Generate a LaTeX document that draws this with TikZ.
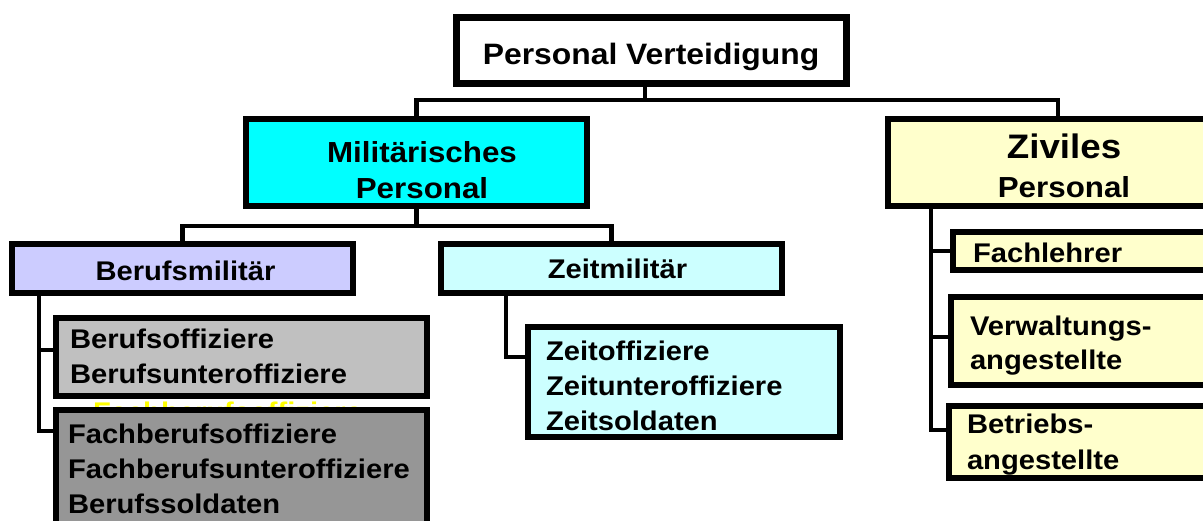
\documentclass[tikz,border=0pt]{standalone}
\usepackage{fontspec}
\setmainfont{Liberation Sans}[FakeStretch=1.08]
\usepackage{array}
\definecolor{milcyan}{HTML}{00FFFF}
\definecolor{zivyellow}{HTML}{FFFFCC}
\definecolor{berlav}{HTML}{CCCCFF}
\definecolor{zeitcyan}{HTML}{CCFFFF}
\definecolor{lgray}{HTML}{C0C0C0}
\definecolor{dgray}{HTML}{969696}
\definecolor{ghost}{HTML}{FFFF00}
\newcommand\tlines[1]{\begin{tabular}[t]{@{}l@{}}#1\end{tabular}}
\newcommand\tcent[1]{\begin{tabular}[t]{@{}c@{}}#1\end{tabular}}
\tikzset{
  orgbox/.style={draw=black, line width=6pt, inner sep=0pt, outer sep=0pt, rectangle},
  conn/.style={draw=black, line width=4.5pt, line cap=rect},
  lbl/.style={inner sep=0pt, outer sep=0pt, font=\bfseries\fontsize{27}{35}\selectfont, text=black},
}
\begin{document}
\begin{tikzpicture}[x=1pt, y=-1pt]
\useasboundingbox (0,0) rectangle (1203,520);
\clip (0,0) rectangle (1203,520);
\fill[white] (0,0) rectangle (1203,520);

% hidden yellow text peeking between the grey boxes
\node[lbl, text=ghost, anchor=base west] (ghosttext) at (93,421) {Fachberufsoffiziere};

% boxes
\node[orgbox, line width=7pt, fill=white, minimum width=390pt, minimum height=66pt] (pv) at (651.5,50.5) {};
\node[orgbox, fill=milcyan, minimum width=341pt, minimum height=87pt] (mil) at (416.5,162.5) {};
\node[orgbox, fill=zivyellow, minimum width=324pt, minimum height=87pt] (ziv) at (1050,162.5) {};
\node[orgbox, fill=berlav, minimum width=341pt, minimum height=49pt] (bm) at (182.5,268.5) {};
\node[orgbox, fill=zeitcyan, minimum width=341pt, minimum height=49pt] (zm) at (611.5,268.5) {};
\node[orgbox, fill=lgray, minimum width=371pt, minimum height=78pt] (bo) at (241.5,357) {};
\node[orgbox, fill=dgray, minimum width=371pt, minimum height=127pt] (fb) at (241.5,473.5) {};
\node[orgbox, fill=zeitcyan, minimum width=312pt, minimum height=110pt] (zo) at (684,382) {};
\node[orgbox, fill=zivyellow, minimum width=259pt, minimum height=38pt] (fl) at (1082.5,251) {};
\node[orgbox, fill=zivyellow, minimum width=261pt, minimum height=88pt] (vw) at (1081.5,341) {};
\node[orgbox, fill=zivyellow, minimum width=263pt, minimum height=72pt] (be) at (1080.5,442) {};

% connectors
\coordinate (j0) at (645,100);
\coordinate (j1) at (416.5,226);
\draw[conn] (j0 |- pv.south) -- (j0);
\draw[conn] (mil.north) |- (j0);
\draw[conn] ([xshift=8pt]ziv.north) |- (j0);
\draw[conn] (mil.south) -- (j1);
\draw[conn] (bm.north) |- (j1);
\draw[conn] (zm.north) |- (j1);
\draw[conn] ([xshift=27pt]bm.south west) |- ([yshift=7pt]bo.west);
\draw[conn] ([xshift=27pt]bm.south west) |- ([yshift=-21pt]fb.north west);
\draw[conn] ([xshift=65pt]zm.south west) |- ([yshift=25pt]zo.west);
\draw[conn] ([xshift=43pt]ziv.south west) |- (fl.west);
\draw[conn] ([xshift=43pt]ziv.south west) |- ([yshift=4pt]vw.west);
\draw[conn] ([xshift=43pt]ziv.south west) |- ([yshift=12pt]be.west);

% texts
\node[lbl, font=\bfseries\fontsize{29.5}{36}\selectfont, anchor=base] (tpv) at (651,64) {Personal Verteidigung};
\node[lbl, font=\bfseries\fontsize{29}{36}\selectfont, anchor=base] (tmil) at (422,162) {\tcent{Militärisches\\Personal}};
\node[lbl, font=\bfseries\fontsize{29}{39}\selectfont, anchor=base] (tziv) at (1064,158) {\tcent{{\fontsize{34}{39}\selectfont Ziviles}\\Personal}};
\node[lbl, anchor=base] (tbm) at (185.5,280) {Berufsmilitär};
\node[lbl, anchor=base] (tzm) at (617.5,278) {Zeitmilitär};
\node[lbl, anchor=base west] (tbo) at (70,348) {\tlines{Berufsoffiziere\\Berufsunteroffiziere}};
\node[lbl, anchor=base west] (tfb) at (68,443) {\tlines{Fachberufsoffiziere\\Fachberufsunteroffiziere\\Berufssoldaten}};
\node[lbl, anchor=base west] (tzo) at (546,360) {\tlines{Zeitoffiziere\\Zeitunteroffiziere\\Zeitsoldaten}};
\node[lbl, anchor=base west] (tfl) at (973,262) {Fachlehrer};
\node[lbl, font=\bfseries\fontsize{27}{34}\selectfont, anchor=base west] (tvw) at (970,335) {\tlines{Verwaltungs-\\angestellte}};
\node[lbl, font=\bfseries\fontsize{27}{36}\selectfont, anchor=base west] (tbe) at (967,433) {\tlines{Betriebs-\\angestellte}};
\end{tikzpicture}
\end{document}
